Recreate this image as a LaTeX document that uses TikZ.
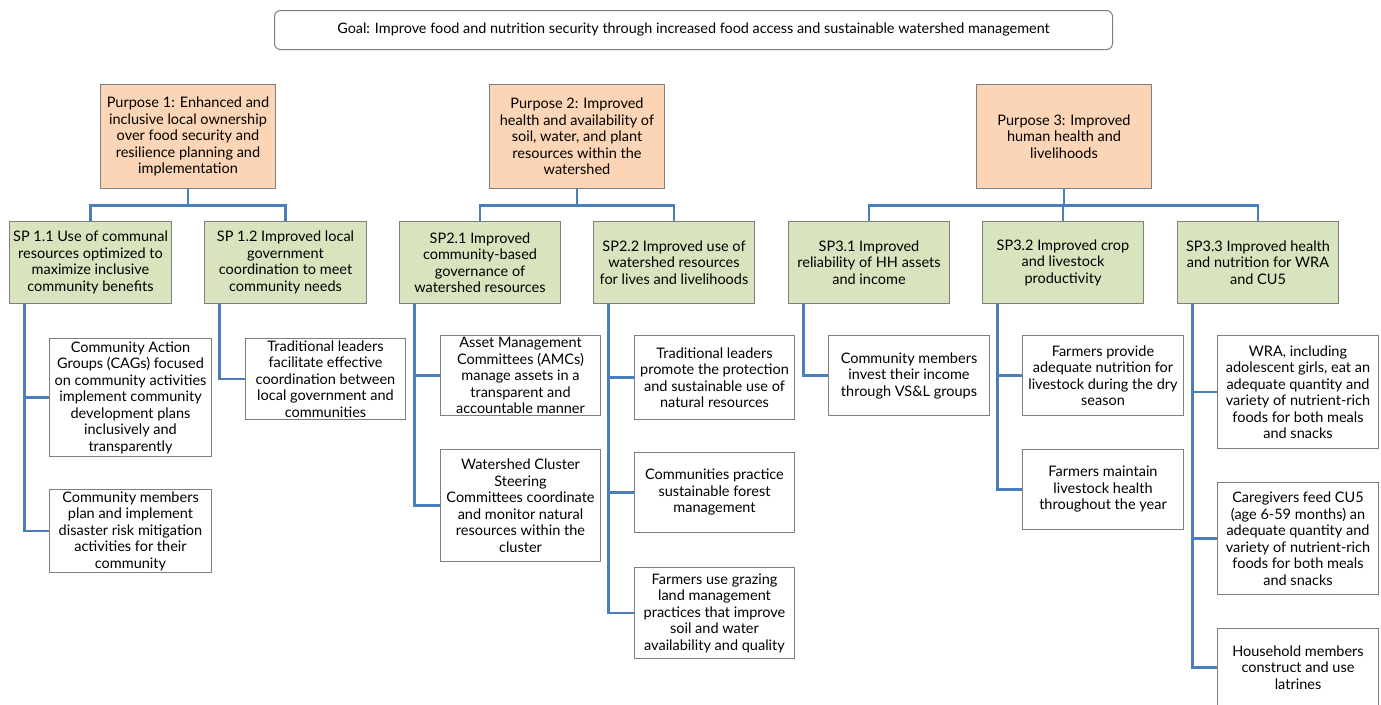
\documentclass[tikz,border=0pt]{standalone}
\usepackage{fontspec}
\setmainfont{Lato}
\usetikzlibrary{positioning}
\definecolor{peach}{HTML}{FBD5B5}
\definecolor{sage}{HTML}{D7E4BD}
\definecolor{edge}{HTML}{7F7F7F}
\definecolor{linkblue}{HTML}{4A7EBB}
\tikzset{
  box/.style={draw=edge, line width=1pt, rectangle, anchor=north west, align=center, inner sep=0pt,
    font=\fontsize{14.5}{16.5}\selectfont},
  goalbox/.style={box, rounded corners=6pt, fill=white},
  purposebox/.style={box, fill=peach, minimum width=175, minimum height=104},
  spbox/.style={box, fill=sage, minimum width=161, minimum height=82},
  leafbox/.style={box, fill=white},
  conn/.style={draw=linkblue, line width=2.4pt}
}
\begin{document}
\begin{tikzpicture}[x=1pt,y=-1pt]
\useasboundingbox (0,0) rectangle (1381,704);
\fill[white] (0,0) rectangle (1381,704);

\node[goalbox, minimum width=838, minimum height=39, font=\fontsize{14.4}{16}\selectfont] (goal) at (274,10)
  {Goal: Improve food and nutrition security through increased food access and sustainable watershed management};

% purposes
\node[purposebox] (p1) at (100,84) {Purpose 1: Enhanced and\\inclusive local ownership\\over food security and\\resilience planning and\\implementation};
\node[purposebox] (p2) at (489,84) {Purpose 2: Improved\\health and availability of\\soil, water, and plant\\resources within the\\watershed};
\node[purposebox] (p3) at (976,84) {Purpose 3: Improved\\human health and\\livelihoods};

% sub-purposes
\node[spbox, minimum width=162] (sp11) at (9,221) {SP 1.1 Use of communal\\resources optimized to\\maximize inclusive\\community benefits};
\node[spbox, minimum width=162] (sp12) at (204,221) {SP 1.2 Improved local\\government\\coordination to meet\\community needs};
\node[spbox] (sp21) at (399,221) {SP2.1 Improved\\community-based\\governance of\\watershed resources};
\node[spbox] (sp22) at (593,221) {SP2.2 Improved use of\\watershed resources\\for lives and livelihoods};
\node[spbox] (sp31) at (788,221) {SP3.1 Improved\\reliability of HH assets\\and income};
\node[spbox] (sp32) at (982,221) {SP3.2 Improved crop\\and livestock\\productivity};
\node[spbox] (sp33) at (1177,221) {SP3.3 Improved health\\and nutrition for WRA\\and CU5};

% leaves
\node[leafbox, minimum width=162, minimum height=118] (cag) at (49,338) {Community Action\\Groups (CAGs) focused\\on community activities\\implement community\\development plans\\inclusively and\\transparently};
\node[leafbox, minimum width=162, minimum height=83] (cmp) at (49,489) {Community members\\plan and implement\\disaster risk mitigation\\activities for their\\community};
\node[leafbox, minimum width=160, minimum height=81] (tlf) at (245,338) {Traditional leaders\\facilitate effective\\coordination between\\local government and\\communities};
\node[leafbox, minimum width=160, minimum height=80] (amc) at (440,335) {Asset Management\\Committees (AMCs)\\manage assets in a\\transparent and\\accountable manner};
\node[leafbox, minimum width=160, minimum height=112] (wcs) at (440,449) {Watershed Cluster\\Steering\\Committees coordinate\\and monitor natural\\resources within the\\cluster};
\node[leafbox, minimum width=160, minimum height=84] (tlp) at (634,335) {Traditional leaders\\promote the protection\\and sustainable use of\\natural resources};
\node[leafbox, minimum width=160, minimum height=80] (cps) at (634,452) {Communities practice\\sustainable forest\\management};
\node[leafbox, minimum width=160, minimum height=91] (fug) at (634,567) {Farmers use grazing\\land management\\practices that improve\\soil and water\\availability and quality};
\node[leafbox, minimum width=161, minimum height=80] (cmi) at (828,335) {Community members\\invest their income\\through VS\&L groups};
\node[leafbox, minimum width=161, minimum height=80] (fpn) at (1022,335) {Farmers provide\\adequate nutrition for\\livestock during the dry\\season};
\node[leafbox, minimum width=161, minimum height=80] (fml) at (1022,449) {Farmers maintain\\livestock health\\throughout the year};
\node[leafbox, minimum width=161, minimum height=113] (wra) at (1217,335) {WRA, including\\adolescent girls, eat an\\adequate quantity and\\variety of nutrient-rich\\foods for both meals\\and snacks};
\node[leafbox, minimum width=161, minimum height=112] (cgv) at (1217,482) {Caregivers feed CU5\\(age 6-59 months) an\\adequate quantity and\\variety of nutrient-rich\\foods for both meals\\and snacks};
\node[leafbox, minimum width=161, minimum height=78] (hhm) at (1217,628) {Household members\\construct and use\\latrines};

% purpose -> sub-purpose connectors
\foreach \p/\s in {p1/sp11,p1/sp12,p2/sp21,p2/sp22,p3/sp31,p3/sp32,p3/sp33}
  \draw[conn] (\p.south) -- ++(0,16.5) -| (\s.north);

% sub-purpose -> leaf connectors
\foreach \s/\l in {sp11/cag,sp11/cmp,sp12/tlf,sp21/amc,sp21/wcs,sp22/tlp,sp22/cps,sp22/fug,sp31/cmi,sp32/fpn,sp32/fml,sp33/wra,sp33/cgv,sp33/hhm}
  \draw[conn] ([xshift=15.5pt]\s.south west) |- (\l.west);
\end{tikzpicture}
\end{document}
